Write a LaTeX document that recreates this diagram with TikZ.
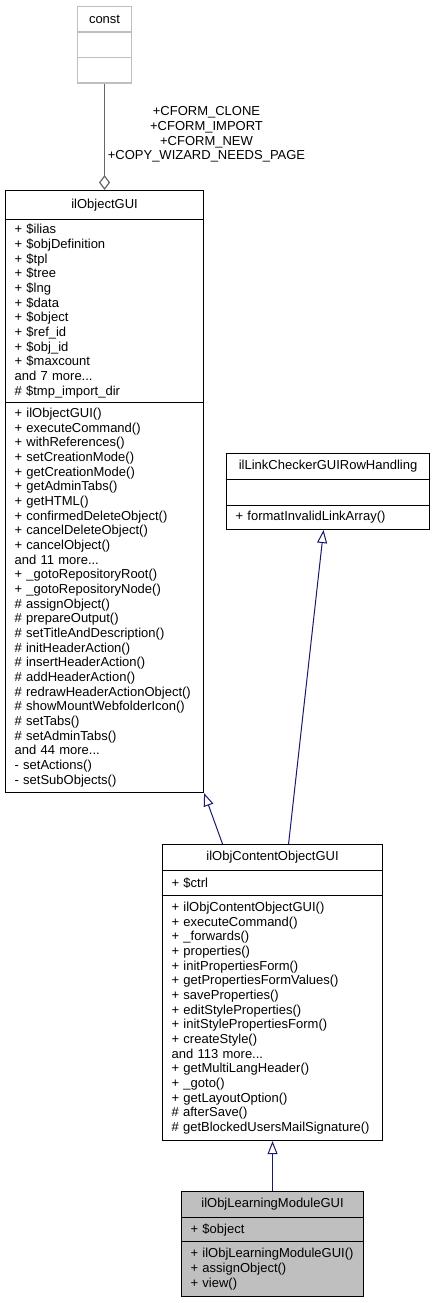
\documentclass[tikz,border=0pt]{standalone}
\usepackage{fontspec}
\setmainfont{Liberation Sans}
\usetikzlibrary{arrows.meta}
\definecolor{edgeblue}{HTML}{191970}
\definecolor{boxgray}{HTML}{BFBFBF}
\definecolor{linkgray}{HTML}{666666}
\newcommand{\umlfont}{\fontsize{13}{14.66}\selectfont\hyphenpenalty=10000\exhyphenpenalty=10000}

\begin{document}
\begin{tikzpicture}[x=1pt, y=-1pt,
  cls/.style={draw, line width=1.1pt, anchor=north west, inner ysep=0pt, font=\umlfont},
  ttl/.style={cls, inner xsep=0pt, align=center},
  mem/.style={cls, inner xsep=9pt, align=left},
  inherit/.style={draw=edgeblue, line width=1pt, -{Triangle[open, length=13pt, width=10pt]}},
  usage/.style={draw=linkgray, line width=1.2pt, -{Diamond[open, length=15pt, width=11pt]}}]
  \useasboundingbox (0,0) rectangle (435,1303);

  % const
  \node[ttl, draw=boxgray, text width=54pt, minimum height=25.5pt] (constT) at (77,6) {const};
  \node[ttl, draw=boxgray, text width=54pt, minimum height=25.5pt] (constA) at (77,31.5) {};
  \node[ttl, draw=boxgray, text width=54pt, minimum height=25.5pt] (constM) at (77,57) {};

  % ilObjectGUI
  \node[ttl, text width=198pt, minimum height=29pt] (objT) at (5,190) {ilObjectGUI};
  \node[mem, text width=180pt, minimum height=183pt] (objA) at (5,219) {%
    +~\$ilias\\+~\$objDefinition\\+~\$tpl\\+~\$tree\\+~\$lng\\+~\$data\\+~\$object\\%
    +~\$ref\_id\\+~\$obj\_id\\+~\$maxcount\\and~7~more...\\\#~\$tmp\_import\_dir};
  \node[mem, text width=180pt, minimum height=390pt] (objM) at (5,402) {%
    +~ilObjectGUI()\\+~executeCommand()\\+~withReferences()\\+~setCreationMode()\\%
    +~getCreationMode()\\+~getAdminTabs()\\+~getHTML()\\+~confirmedDeleteObject()\\%
    +~cancelDeleteObject()\\+~cancelObject()\\and~11~more...\\+~\_gotoRepositoryRoot()\\%
    +~\_gotoRepositoryNode()\\\#~assignObject()\\\#~prepareOutput()\\%
    \#~setTitleAndDescription()\\\#~initHeaderAction()\\\#~insertHeaderAction()\\%
    \#~addHeaderAction()\\\#~redrawHeaderActionObject()\\\#~showMountWebfolderIcon()\\%
    \#~setTabs()\\\#~setAdminTabs()\\and~44~more...\\-~setActions()\\-~setSubObjects()};

  % ilLinkCheckerGUIRowHandling
  \node[ttl, text width=203pt, minimum height=26pt] (linkT) at (226,453) {ilLinkCheckerGUIRowHandling};
  \node[mem, text width=185pt, minimum height=26pt] (linkA) at (226,479) {};
  \node[mem, text width=185pt, minimum height=24pt] (linkM) at (226,505) {+~formatInvalidLinkArray()};

  % ilObjContentObjectGUI
  \node[ttl, text width=220pt, minimum height=26pt] (coT) at (162,844) {ilObjContentObjectGUI};
  \node[mem, text width=202pt, minimum height=25pt] (coA) at (162,870) {+~\$ctrl};
  \node[mem, text width=202pt, minimum height=245pt] (coM) at (162,895) {%
    +~ilObjContentObjectGUI()\\+~executeCommand()\\+~\_forwards()\\+~properties()\\%
    +~initPropertiesForm()\\+~getPropertiesFormValues()\\+~saveProperties()\\%
    +~editStyleProperties()\\+~initStylePropertiesForm()\\+~createStyle()\\%
    and~113~more...\\+~getMultiLangHeader()\\+~\_goto()\\+~getLayoutOption()\\%
    \#~afterSave()\\\#~getBlockedUsersMailSignature()};

  % ilObjLearningModuleGUI
  \node[ttl, fill=boxgray, text width=182pt, minimum height=26pt] (lmT) at (181,1191) {ilObjLearningModuleGUI};
  \node[mem, fill=boxgray, text width=164pt, minimum height=24pt] (lmA) at (181,1217) {+~\$object};
  \node[mem, fill=boxgray, text width=164pt, minimum height=55pt] (lmM) at (181,1241) {%
    +~ilObjLearningModuleGUI()\\+~assignObject()\\+~view()};

  % relations
  \draw[usage] (constM.south) -- (objT.north);
  \node[font=\umlfont, align=center] (lblConst) at (206.5,134.5)
    {+CFORM\_CLONE\\+CFORM\_IMPORT\\+CFORM\_NEW\\+COPY\_WIZARD\_NEEDS\_PAGE};
  \draw[inherit] ([xshift=-50pt]coT.north) -- (objM.south east);
  \draw[inherit] ([xshift=16pt]coT.north) -- ([xshift=-4.5pt]linkM.south);
  \draw[inherit] (lmT.north) -- (coM.south);
\end{tikzpicture}
\end{document}
